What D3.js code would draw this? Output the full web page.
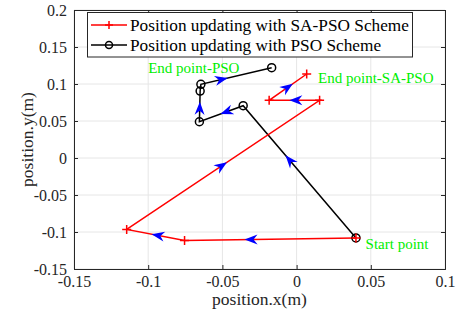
<!DOCTYPE html>
<html>
<head>
<meta charset="utf-8">
<script src="https://cdn.jsdelivr.net/npm/d3@7"></script>
<style>
  body { margin: 0; background: #fff; }
  svg text { font-family: "Liberation Serif", "Times New Roman", serif !important; }
</style>
</head>
<body>
<div id="chart"></div>
<script>
// trajectories (x, y in metres)
var saX = [0.040, -0.0755, -0.1145, 0.0155, -0.0185, 0.0068];
var saY = [-0.108, -0.1115, -0.0965, 0.078, 0.078, 0.1135];
var psoX = [0.040, -0.036, -0.0655, -0.065, -0.0645, -0.0168];
var psoY = [-0.108, 0.0707, 0.049, 0.0905, 0.0996, 0.122];
// where the direction arrow sits along each segment (null = none)
var saArrowT = [0.65, 0.57, 0.52, 0.6, 0.63];
var psoArrowT = [0.625, 0.52, 0.65, null, 0.38];

var xTicks = [-0.15, -0.1, -0.05, 0, 0.05, 0.1];
var yTicks = [-0.15, -0.1, -0.05, 0, 0.05, 0.1, 0.15, 0.2];
var legendLabels = ['Position updating with SA-PSO Scheme', 'Position updating with PSO Scheme'];
var notes = [
  {text: 'End point-PSO', x: -0.1, y: 0.122},
  {text: 'End point-SA-PSO', x: 0.0145, y: 0.109},
  {text: 'Start point', x: 0.0465, y: -0.116}
];

var W = 458, H = 322;
var pL = 74, pR = 445, pT = 10, pB = 269;

var svg = d3.select('#chart').append('svg')
    .attr('width', W)
    .attr('height', H);

var x = d3.scaleLinear().domain([-0.15, 0.1]).range([pL, pR]);
var y = d3.scaleLinear().domain([-0.15, 0.2]).range([pB, pT]);

// grid
svg.append('g').selectAll('line').data(xTicks).join('line')
    .attr('x1', d => x(d)).attr('x2', d => x(d))
    .attr('y1', pT).attr('y2', pB)
    .attr('stroke', '#e6e6e6');
svg.append('g').selectAll('line').data(yTicks).join('line')
    .attr('x1', pL).attr('x2', pR)
    .attr('y1', d => y(d)).attr('y2', d => y(d))
    .attr('stroke', '#e6e6e6');

// axes, ticks pointing inward, on all four sides
var fmt = d => String(+d.toFixed(2));
var axB = svg.append('g').attr('transform', 'translate(0,' + pB + ')')
    .call(d3.axisBottom(x).tickValues(xTicks).tickSize(-4).tickPadding(7).tickFormat(fmt));
var axT = svg.append('g').attr('transform', 'translate(0,' + pT + ')')
    .call(d3.axisTop(x).tickValues(xTicks).tickSize(-4).tickFormat(''));
var axL = svg.append('g').attr('transform', 'translate(' + pL + ',0)')
    .call(d3.axisLeft(y).tickValues(yTicks).tickSize(-4).tickPadding(7).tickFormat(fmt));
var axR = svg.append('g').attr('transform', 'translate(' + pR + ',0)')
    .call(d3.axisRight(y).tickValues(yTicks).tickSize(-4).tickFormat(''));
[axB, axT, axL, axR].forEach(function(a) {
  a.attr('font-family', null).attr('font-size', null);
  a.select('.domain').attr('stroke', '#262626');
  a.selectAll('.tick line').attr('stroke', '#262626');
  a.selectAll('.tick text')
    .attr('fill', '#262626')
    .style('font-size', '16px');
});

svg.append('text')
    .attr('x', (pL + pR) / 2).attr('y', 305)
    .attr('text-anchor', 'middle')
    .attr('fill', '#262626')
    .style('font-size', '17.5px')
    .text('position.x(m)');
svg.append('text')
    .attr('transform', 'translate(27,' + ((pT + pB) / 2) + ') rotate(-90)')
    .attr('text-anchor', 'middle')
    .attr('dy', '0.35em')
    .attr('fill', '#262626')
    .style('font-size', '17.5px')
    .text('position.y(m)');

var line = d3.line().x(d => x(d[0])).y(d => y(d[1]));
var sa = saX.map((v, i) => [v, saY[i]]);
var pso = psoX.map((v, i) => [v, psoY[i]]);

function arrows(pts, ts) {
  var out = [];
  ts.forEach(function(t, i) {
    if (t == null) return;
    var a = pts[i], b = pts[i + 1];
    var x0 = x(a[0]), y0 = y(a[1]), x1 = x(b[0]), y1 = y(b[1]);
    out.push({x: x0 + (x1 - x0) * t, y: y0 + (y1 - y0) * t,
              ang: Math.atan2(y1 - y0, x1 - x0) * 180 / Math.PI});
  });
  return out;
}

// PSO path (black, circles)
svg.append('path').datum(pso)
    .attr('d', line).attr('fill', 'none')
    .attr('stroke', '#000').attr('stroke-width', 1.5);
// SA-PSO path (red, plus)
svg.append('path').datum(sa)
    .attr('d', line).attr('fill', 'none')
    .attr('stroke', '#ff0000').attr('stroke-width', 1.5);

svg.append('g').selectAll('circle').data(pso).join('circle')
    .attr('cx', d => x(d[0])).attr('cy', d => y(d[1]))
    .attr('r', 4).attr('fill', 'none')
    .attr('stroke', '#000').attr('stroke-width', 1.5);

svg.append('g').selectAll('path').data(sa).join('path')
    .attr('d', 'M-4.5,0H4.5M0,-4.5V4.5')
    .attr('transform', d => 'translate(' + x(d[0]) + ',' + y(d[1]) + ')')
    .attr('stroke', '#ff0000').attr('stroke-width', 1.5);

// blue direction arrows
var head = 'M0,0L-13,-5L-9,0L-13,5Z';
svg.append('g').selectAll('path')
    .data(arrows(sa, saArrowT).concat(arrows(pso, psoArrowT)))
    .join('path')
    .attr('d', head)
    .attr('transform', d => 'translate(' + d.x + ',' + d.y + ') rotate(' + d.ang + ')')
    .attr('fill', '#0000ff');

// green annotations
svg.append('g').selectAll('text').data(notes).join('text')
    .attr('x', d => x(d.x)).attr('y', d => y(d.y))
    .attr('dy', '0.35em')
    .attr('fill', '#00ee00')
    .style('font-size', '15px')
    .text(d => d.text);

// legend
var lg = svg.append('g');
lg.append('rect')
    .attr('x', 87.5).attr('y', 12.5).attr('width', 325).attr('height', 44.5)
    .attr('fill', '#fff').attr('stroke', '#262626').attr('stroke-width', 1);
var legendText = [];
legendLabels.forEach(function(lbl, i) {
  var cy = 25 + i * 20;
  lg.append('line')
      .attr('x1', 91).attr('x2', 127).attr('y1', cy).attr('y2', cy)
      .attr('stroke', i === 0 ? '#ff0000' : '#000').attr('stroke-width', 1.5);
  if (i === 0) {
    lg.append('path').attr('d', 'M-4,0H4M0,-4V4')
        .attr('transform', 'translate(109,' + cy + ')')
        .attr('stroke', '#ff0000').attr('stroke-width', 1.5);
  } else {
    lg.append('circle').attr('cx', 109).attr('cy', cy).attr('r', 3.5)
        .attr('fill', 'none').attr('stroke', '#000').attr('stroke-width', 1.5);
  }
  legendText.push(lg.append('text')
      .attr('x', 130).attr('y', cy).attr('dy', '0.35em')
      .attr('fill', '#000')
      .style('font-size', '17.5px')
      .text(lbl));
});
// the first entry runs nearly to the box's right edge
var w0 = legendText[0].node().getComputedTextLength();
if (w0 > 0) {
  var fs = Math.min(19, 17.5 * 279 / w0);
  legendText.forEach(t => t.style('font-size', fs + 'px'));
}
</script>
</body>
</html>
